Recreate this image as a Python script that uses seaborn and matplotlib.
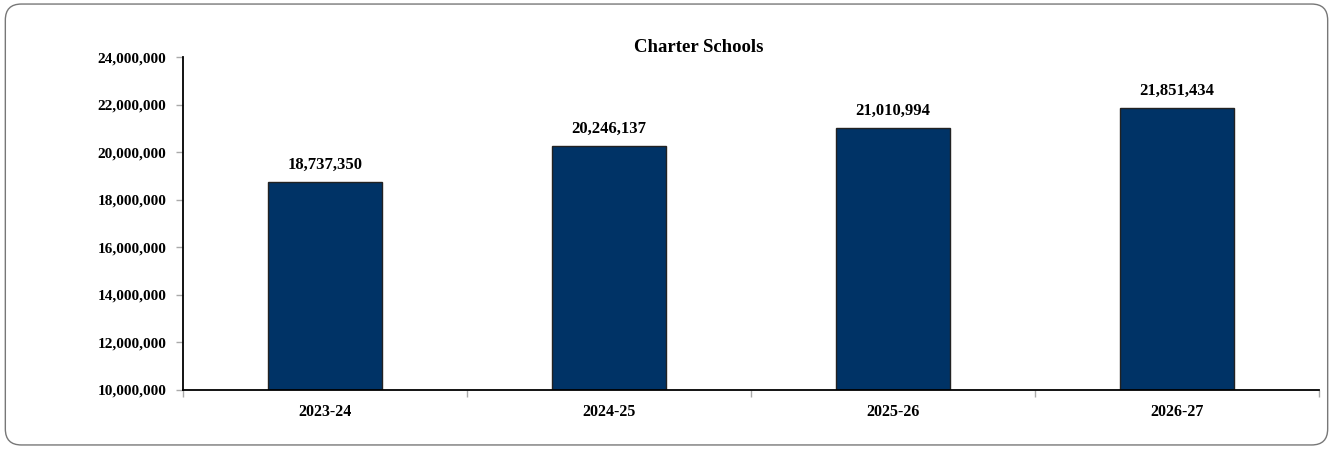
import numpy as np
import pandas as pd
import matplotlib
matplotlib.use("Agg")
import matplotlib.pyplot as plt
import seaborn as sns
from matplotlib.patches import FancyBboxPatch
from matplotlib.ticker import FuncFormatter

years = ["2023-24", "2024-25", "2025-26", "2026-27"]
amounts = [18737350, 20246137, 21010994, 21851434]
y_ticks = [10000000, 12000000, 14000000, 16000000, 18000000, 20000000, 22000000, 24000000]

sns.set_style("white")
plt.rcParams["font.family"] = ["Liberation Serif", "DejaVu Serif"]
plt.rcParams["font.weight"] = "bold"
plt.rcParams["text.color"] = "black"
plt.rcParams["xtick.color"] = "black"
plt.rcParams["ytick.color"] = "black"

df = pd.DataFrame({"year": years, "amount": amounts})

fig = plt.figure(figsize=(13.33, 4.49), dpi=100)
ax = fig.add_axes([0.1373, 0.1314, 0.8522, 0.7416])

sns.barplot(data=df, x="year", y="amount", color="#003366", width=0.4,
            edgecolor="#222222", linewidth=1.0, saturation=1, ax=ax)

ax.set_ylim(y_ticks[0], y_ticks[-1])
ax.set_xlim(-0.5, len(years) - 0.5)
ax.set_yticks(y_ticks)
ax.yaxis.set_major_formatter(FuncFormatter(lambda v, p: f"{int(v):,}"))
ax.set_xlabel("")
ax.set_ylabel("")

# tick marks between categories
ax.set_xticks(np.arange(-0.5, len(years)), minor=True)
ax.tick_params(axis="x", which="major", bottom=True, length=0, pad=10, labelsize=11.5,
               labelcolor="black")
ax.tick_params(axis="x", which="minor", bottom=True, length=5, color="#aaaaaa", width=1,
               direction="out")
ax.tick_params(axis="y", left=True, length=5, color="#aaaaaa", width=1, direction="out",
               pad=7, labelsize=11, labelcolor="black")
for lab in ax.get_xticklabels() + ax.get_yticklabels():
    lab.set_fontweight("bold")

for s in ["top", "right"]:
    ax.spines[s].set_visible(False)
for s in ["left", "bottom"]:
    ax.spines[s].set_color("black")
    ax.spines[s].set_linewidth(1.3)

for i, v in enumerate(amounts):
    ax.annotate(f"{v:,}", (i, v), xytext=(0, 7), textcoords="offset points",
                ha="center", va="bottom", fontsize=12, fontweight="bold", color="black")

fig.text(699 / 1333, 1 - 47 / 449, "Charter Schools", ha="center", va="center",
         fontsize=13.5, fontweight="bold", color="black")

border = FancyBboxPatch((0.004, 0.009), 0.992, 0.982, boxstyle="round,pad=0,rounding_size=0.012",
                        transform=fig.transFigure, facecolor="none", edgecolor="#777777",
                        linewidth=1.0, mutation_aspect=1333 / 449)
fig.patches.append(border)

fig.savefig("out.png", dpi=100)
